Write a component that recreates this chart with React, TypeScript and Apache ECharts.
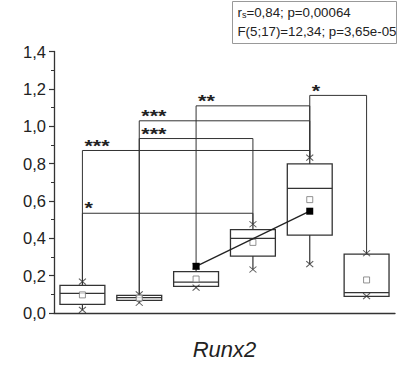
import React, { useEffect, useRef } from 'react';
import * as echarts from 'echarts';

const FONT = '"Liberation Sans", Arial, Helvetica, sans-serif';
const INK = '#222';
const LINE = '#333';

// Groups (no tick labels are shown on the x axis)
const categories = ['G1', 'G2', 'G3', 'G4', 'G5', 'G6'];
const axisTitle = 'Runx2';

// Box-plot statistics
const whiskerLow = [0.017, 0.055, 0.136, 0.233, 0.262, 0.09];
const q1 = [0.046, 0.068, 0.143, 0.305, 0.417, 0.089];
const median = [0.105, 0.082, 0.165, 0.4, 0.667, 0.109];
const q3 = [0.148, 0.094, 0.221, 0.446, 0.798, 0.315];
const whiskerHigh = [0.168, 0.1, 0.25, 0.475, 0.832, 0.32];
const means = [0.097, 0.08, 0.182, 0.378, 0.607, 0.177];

// Filled squares joined by a line
const trendValues: (number | null)[] = [null, null, 0.25, null, 0.545, null];

// Significance brackets
const bracketFrom = [0, 0, 1, 1, 2, 4];
const bracketTo = [3, 4, 3, 4, 4, 5];
const bracketLevel = [0.534, 0.87, 0.934, 1.029, 1.109, 1.165];
const bracketStars = ['*', '***', '***', '***', '**', '*'];

// Statistics box
const rsValue = '=0,84; p=0,00064';
const anovaText = 'F(5;17)=12,34; p=3,65e-05';

const boxData = categories.map((_, i) => [i, whiskerLow[i], q1[i], median[i], q3[i], whiskerHigh[i]]);
const bracketData = bracketFrom.map((f, k) => [
  f,
  bracketTo[k],
  bracketLevel[k],
  whiskerHigh[f],
  whiskerHigh[bracketTo[k]],
]);
const endMarks: [number, number][] = [];
categories.forEach((_, i) => {
  endMarks.push([i, whiskerLow[i]]);
  endMarks.push([i, whiskerHigh[i]]);
});

export default function App() {
  const ref = useRef<HTMLDivElement>(null);
  useEffect(() => {
    const chart = echarts.init(ref.current!, null, { renderer: 'svg' });
    const option: any = {
      animation: false,
      backgroundColor: '#fff',
      textStyle: { fontFamily: FONT },
      grid: { left: 54, right: 3, top: 51.5, bottom: 39.3, containLabel: false },
      xAxis: {
        type: 'category',
        data: categories,
        boundaryGap: true,
        name: axisTitle,
        nameLocation: 'middle',
        nameGap: 25,
        nameTextStyle: { fontSize: 22, fontStyle: 'italic', color: INK, fontFamily: FONT },
        axisLine: { lineStyle: { color: LINE, width: 1.3 } },
        axisTick: { alignWithLabel: true, length: 6, lineStyle: { color: LINE, width: 1.2 } },
        axisLabel: { show: false },
        splitLine: { show: false },
      },
      yAxis: {
        type: 'value',
        min: 0,
        max: 1.4,
        interval: 0.2,
        axisLine: { show: true, lineStyle: { color: LINE, width: 1.3 } },
        axisTick: { show: true, length: 5, lineStyle: { color: LINE, width: 1.2 } },
        minorTick: { show: true, splitNumber: 2, length: 3, lineStyle: { color: LINE, width: 1 } },
        splitLine: { show: false },
        axisLabel: {
          fontSize: 16.5,
          color: INK,
          fontFamily: FONT,
          margin: 8,
          formatter: (v: number) => v.toFixed(1).replace('.', ','),
        },
      },
      series: [
        {
          type: 'custom',
          name: 'brackets',
          data: bracketData,
          encode: { x: [0, 1], y: [2, 3, 4] },
          z: 2,
          renderItem: (params: any, api: any) => {
            const a = api.coord([api.value(0), api.value(2)]);
            const b = api.coord([api.value(1), api.value(2)]);
            const fa = api.coord([api.value(0), api.value(3)]);
            const fb = api.coord([api.value(1), api.value(4)]);
            return {
              type: 'group',
              children: [
                {
                  type: 'polyline',
                  shape: { points: [[a[0], fa[1]], [a[0], a[1]], [b[0], b[1]], [b[0], fb[1]]] },
                  style: { stroke: LINE, lineWidth: 1, fill: 'none' },
                },
                {
                  type: 'text',
                  x: a[0] + 2,
                  y: a[1] - 4.3,
                  scaleX: 1.35,
                  style: {
                    text: bracketStars[params.dataIndex],
                    fontSize: 16,
                    fontWeight: 'bold',
                    fontFamily: FONT,
                    fill: INK,
                    align: 'left',
                    verticalAlign: 'middle',
                  },
                },
              ],
            };
          },
        },
        {
          type: 'custom',
          name: 'boxes',
          data: boxData,
          encode: { x: 0, y: [1, 2, 3, 4, 5] },
          z: 3,
          renderItem: (params: any, api: any) => {
            const i = api.value(0);
            const lo = api.coord([i, api.value(1)]);
            const b1 = api.coord([i, api.value(2)]);
            const md = api.coord([i, api.value(3)]);
            const b3 = api.coord([i, api.value(4)]);
            const hi = api.coord([i, api.value(5)]);
            const w = api.size([1, 0])[0] * 0.79;
            const x = lo[0];
            const st = { stroke: LINE, lineWidth: 1.2 };
            return {
              type: 'group',
              children: [
                { type: 'line', shape: { x1: x, y1: b3[1], x2: x, y2: hi[1] }, style: st },
                { type: 'line', shape: { x1: x, y1: b1[1], x2: x, y2: lo[1] }, style: st },
                {
                  type: 'rect',
                  shape: { x: x - w / 2, y: b3[1], width: w, height: b1[1] - b3[1] },
                  style: { fill: '#fff', stroke: LINE, lineWidth: 1.3 },
                },
                { type: 'line', shape: { x1: x - w / 2, y1: md[1], x2: x + w / 2, y2: md[1] }, style: st },
              ],
            };
          },
        },
        {
          type: 'scatter',
          name: 'whisker ends',
          data: endMarks,
          symbol: 'path://M0,0L10,10M10,0L0,10',
          symbolSize: [7, 6],
          itemStyle: { color: 'none', borderColor: LINE, borderWidth: 1 },
          z: 4,
        },
        {
          type: 'scatter',
          name: 'mean',
          data: means.map((m, i) => [i, m]),
          symbol: 'rect',
          symbolSize: 6,
          itemStyle: { color: '#fff', borderColor: '#777', borderWidth: 1 },
          z: 5,
        },
        {
          type: 'line',
          name: 'trend',
          data: trendValues,
          connectNulls: true,
          symbol: 'rect',
          showAllSymbol: true,
          symbolSize: 7,
          itemStyle: { color: '#000' },
          lineStyle: { color: '#222', width: 1.3 },
          z: 6,
        },
      ],
      graphic: [
        {
          type: 'group',
          left: 232,
          top: 1,
          children: [
            {
              type: 'rect',
              shape: { x: 0, y: 0, width: 164, height: 42 },
              style: { fill: '#fff', stroke: '#999', lineWidth: 1 },
            },
            {
              type: 'text',
              x: 5,
              y: 3,
              style: {
                text: '{r|r}{s|s}{r|' + rsValue + '}',
                rich: {
                  r: { fontSize: 13.3, fontFamily: FONT, fill: INK, color: INK },
                  s: { fontSize: 9, fontFamily: FONT, fill: INK, color: INK, padding: [6, 0, 0, 0] },
                },
              },
            },
            {
              type: 'text',
              x: 5,
              y: 23,
              style: { text: anovaText, fontSize: 13.3, fontFamily: FONT, fill: INK },
            },
          ],
        },
      ],
    };
    chart.setOption(option);
    return () => chart.dispose();
  }, []);
  return (
    <div
      ref={ref}
      style={{ width: 398, height: 365, position: 'absolute', left: 0, top: 0 }}
    />
  );
}
